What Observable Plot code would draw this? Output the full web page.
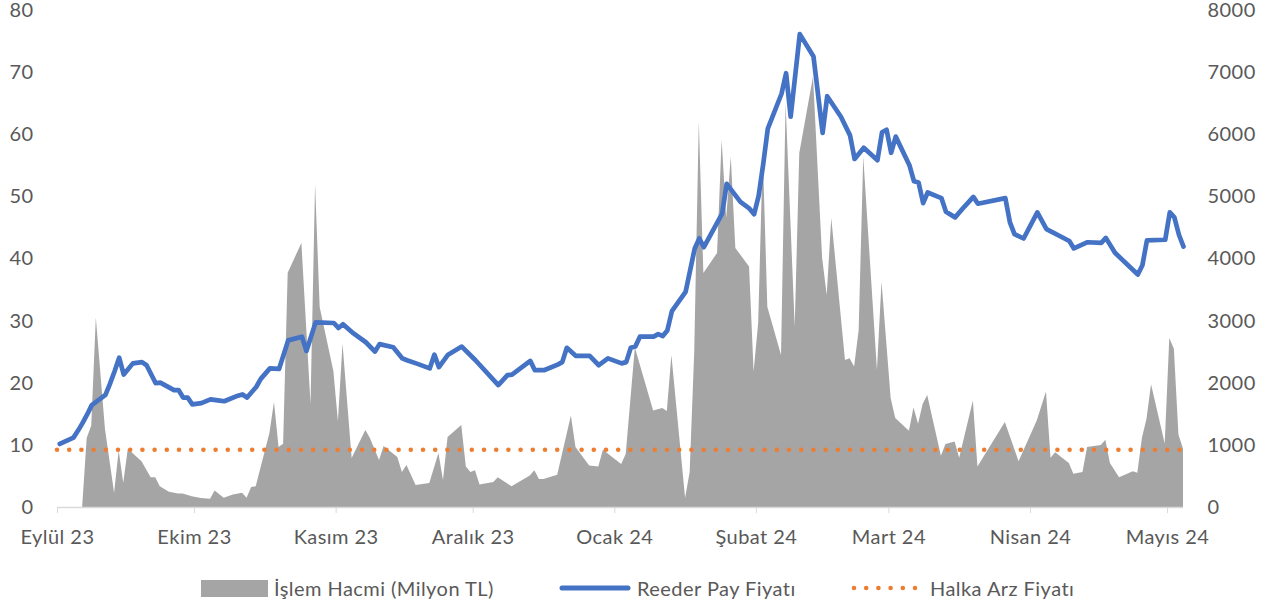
<!DOCTYPE html>
<html>
<head>
<meta charset="utf-8">
<script src="https://cdn.jsdelivr.net/npm/d3@7"></script>
<script src="https://cdn.jsdelivr.net/npm/@observablehq/plot@0.6"></script>
<style>
  html, body { margin: 0; padding: 0; background: #fff; }
  #wrap { width: 1278px; font-family: Lato, "Open Sans", sans-serif; color: #595959; }
  #chart svg text { letter-spacing: 0.45px; }
  #legend { position: relative; width: 1278px; height: 46px; font-size: 20px; letter-spacing: 0.45px; }
  #legend .it { position: absolute; top: 0; height: 46px; display: flex; align-items: center; white-space: nowrap; }
</style>
</head>
<body>
<div id="wrap">
  <div id="chart"></div>
  <div id="legend"></div>
</div>
<script>
// ---- data ----
const seriesNames = ["İşlem Hacmi (Milyon TL)", "Reeder Pay Fiyatı", "Halka Arz Fiyatı"];
const ipoPrice = 9.3;
const tickMonths = ["2023-09-01","2023-10-01","2023-11-01","2023-12-01","2024-01-01","2024-02-01","2024-03-01","2024-04-01","2024-05-01"];
const tickLabels = ["Eylül 23","Ekim 23","Kasım 23","Aralık 23","Ocak 24","Şubat 24","Mart 24","Nisan 24","Mayıs 24"];
const leftTicks = [0,10,20,30,40,50,60,70,80];

// Reeder share price (TL), left axis
const priceSeries = [
  ["2023-09-01",10.23],["2023-09-04",11.25],["2023-09-05",12.38],["2023-09-06",13.62],["2023-09-07",14.98],
  ["2023-09-08",16.48],["2023-09-11",18.13],["2023-09-12",19.94],["2023-09-13",21.93],["2023-09-14",24.12],
  ["2023-09-15",21.4],["2023-09-17",23.2],["2023-09-19",23.4],["2023-09-20",22.9],["2023-09-22",20.0],
  ["2023-09-23",20.1],["2023-09-26",18.9],["2023-09-27",18.9],["2023-09-28",17.7],["2023-09-29",17.7],
  ["2023-09-30",16.6],["2023-10-02",16.8],["2023-10-04",17.4],["2023-10-06",17.2],["2023-10-07",17.1],
  ["2023-10-10",18.0],["2023-10-11",18.2],["2023-10-12",17.7],["2023-10-14",19.4],["2023-10-15",20.7],
  ["2023-10-17",22.4],["2023-10-19",22.3],["2023-10-21",26.9],["2023-10-24",27.5],["2023-10-25",25.2],
  ["2023-10-27",29.8],["2023-10-31",29.7],["2023-11-01",28.9],["2023-11-02",29.5],["2023-11-04",28.2],
  ["2023-11-07",26.6],["2023-11-09",25.1],["2023-11-10",26.3],["2023-11-13",25.8],["2023-11-15",24.0],
  ["2023-11-16",23.7],["2023-11-18",23.2],["2023-11-21",22.4],["2023-11-22",24.6],["2023-11-23",22.6],
  ["2023-11-25",24.6],["2023-11-28",25.9],["2023-12-01",23.7],["2023-12-06",19.7],["2023-12-08",21.3],
  ["2023-12-09",21.4],["2023-12-13",23.6],["2023-12-14",22.1],["2023-12-16",22.1],["2023-12-19",23.0],
  ["2023-12-20",23.4],["2023-12-21",25.7],["2023-12-23",24.4],["2023-12-26",24.4],["2023-12-28",22.9],
  ["2023-12-30",24.0],["2024-01-02",23.2],["2024-01-03",23.4],["2024-01-04",25.7],["2024-01-05",25.9],
  ["2024-01-06",27.5],["2024-01-09",27.5],["2024-01-10",27.9],["2024-01-11",27.6],["2024-01-12",28.5],
  ["2024-01-13",31.6],["2024-01-16",34.7],["2024-01-18",41.7],["2024-01-19",43.3],["2024-01-20",41.9],
  ["2024-01-24",47.3],["2024-01-25",52.1],["2024-01-28",49.2],["2024-01-30",48.1],["2024-01-31",47.2],
  ["2024-02-01",50.2],["2024-02-02",55.3],["2024-02-03",61.0],["2024-02-06",66.6],["2024-02-07",69.9],
  ["2024-02-08",62.9],["2024-02-10",76.2],["2024-02-13",72.6],["2024-02-15",60.3],["2024-02-16",66.2],
  ["2024-02-19",62.9],["2024-02-21",59.9],["2024-02-22",56.1],["2024-02-24",57.9],["2024-02-27",55.9],
  ["2024-02-28",60.4],["2024-02-29",60.8],["2024-03-01",57.1],["2024-03-02",59.7],["2024-03-05",55.1],
  ["2024-03-06",52.5],["2024-03-07",52.3],["2024-03-08",49.0],["2024-03-09",50.7],["2024-03-12",49.8],
  ["2024-03-13",47.6],["2024-03-15",46.7],["2024-03-17",48.4],["2024-03-19",50.0],["2024-03-20",48.9],
  ["2024-03-26",49.8],["2024-03-27",45.9],["2024-03-28",44.0],["2024-03-30",43.3],["2024-04-02",47.5],
  ["2024-04-04",44.8],["2024-04-09",42.9],["2024-04-10",41.7],["2024-04-13",42.7],["2024-04-16",42.6],
  ["2024-04-17",43.4],["2024-04-19",41.0],["2024-04-24",37.5],["2024-04-25",39.0],["2024-04-26",43.0],
  ["2024-04-30",43.1],["2024-05-01",47.5],["2024-05-02",46.7],["2024-05-03",43.9],["2024-05-04",42.0]
];

// Trading volume (million TL), right axis
const volumeSeries = [
  ["2023-09-01",0],["2023-09-06",0],["2023-09-07",1110],["2023-09-08",1312],["2023-09-09",3050],
  ["2023-09-11",1255],["2023-09-13",230],["2023-09-14",909],["2023-09-15",391],["2023-09-16",938],
  ["2023-09-19",737],["2023-09-21",478],["2023-09-22",478],["2023-09-23",334],["2023-09-25",247],
  ["2023-09-27",219],["2023-09-28",219],["2023-09-30",173],["2023-10-02",144],["2023-10-04",132],
  ["2023-10-05",265],["2023-10-07",150],["2023-10-09",201],["2023-10-11",230],["2023-10-12",150],
  ["2023-10-13",322],["2023-10-14",334],["2023-10-17",1190],["2023-10-18",1690],["2023-10-19",966],
  ["2023-10-20",1020],["2023-10-21",3770],["2023-10-24",4250],["2023-10-26",1658],["2023-10-27",5200],
  ["2023-10-28",3220],["2023-10-31",2190],["2023-11-01",1380],["2023-11-02",2630],["2023-11-04",790],
  ["2023-11-07",1240],["2023-11-08",1110],["2023-11-10",756],["2023-11-11",980],["2023-11-14",805],
  ["2023-11-15",564],["2023-11-16",676],["2023-11-18",354],["2023-11-21",386],["2023-11-23",869],
  ["2023-11-24",435],["2023-11-25",1127],["2023-11-28",1320],["2023-11-29",650],["2023-11-30",564],
  ["2023-12-01",593],["2023-12-02",363],["2023-12-05",403],["2023-12-06",478],["2023-12-09",334],
  ["2023-12-13",506],["2023-12-14",593],["2023-12-15",449],["2023-12-16",449],["2023-12-19",518],
  ["2023-12-22",1473],["2023-12-23",967],["2023-12-26",668],["2023-12-28",650],["2023-12-29",921],
  ["2024-01-02",691],["2024-01-03",852],["2024-01-05",2567],["2024-01-07",2060],["2024-01-09",1554],
  ["2024-01-11",1594],["2024-01-12",1546],["2024-01-13",2448],["2024-01-16",145],["2024-01-17",564],
  ["2024-01-18",2500],["2024-01-19",6205],["2024-01-20",3768],["2024-01-23",4090],["2024-01-24",5910],
  ["2024-01-25",4650],["2024-01-26",5640],["2024-01-27",4170],["2024-01-30",3870],["2024-01-31",2180],
  ["2024-02-01",2960],["2024-02-02",5700],["2024-02-03",3225],["2024-02-06",2448],["2024-02-07",6500],
  ["2024-02-09",2903],["2024-02-10",5697],["2024-02-13",6928],["2024-02-15",4010],["2024-02-16",3413],
  ["2024-02-17",4650],["2024-02-20",2367],["2024-02-21",2394],["2024-02-22",2260],["2024-02-23",2850],
  ["2024-02-24",5640],["2024-02-27",2206],["2024-02-28",3627],["2024-03-01",1755],["2024-03-02",1433],
  ["2024-03-05",1226],["2024-03-06",1600],["2024-03-07",1341],["2024-03-08",1657],["2024-03-09",1801],
  ["2024-03-12",823],["2024-03-13",1013],["2024-03-15",1053],["2024-03-16",794],["2024-03-19",1715],
  ["2024-03-20",650],["2024-03-26",1370],["2024-03-29",737],["2024-04-02",1398],["2024-04-04",1859],
  ["2024-04-05",794],["2024-04-06",880],["2024-04-09",708],["2024-04-10",535],["2024-04-12",564],
  ["2024-04-13",967],["2024-04-16",996],["2024-04-17",1082],["2024-04-18",708],["2024-04-20",478],
  ["2024-04-23",576],["2024-04-24",552],["2024-04-25",1110],["2024-04-26",1416],["2024-04-27",1974],
  ["2024-04-30",1024],["2024-05-01",2722],["2024-05-02",2549],["2024-05-03",1168],["2024-05-04",938]
];

// ---- build ----
const colors = { volume: "#a5a5a5", price: "#4472c4", ipo: "#ed7d31", text: "#595959", axis: "#d9d9d9" };
const parse = s => new Date(s + "T12:00:00Z");      // each trading day sits mid-slot
const dayStart = s => new Date(s + "T00:00:00Z");
const price = priceSeries.map(([d, v]) => ({ date: parse(d), value: v }));
const volume = volumeSeries.map(([d, v]) => ({ date: parse(d), value: v / 100 })); // 8000 on right = 80 on left
const months = tickMonths.map(dayStart);
const labelOf = new Map(months.map((m, i) => [+m, tickLabels[i]]));

const chart = Plot.plot({
  width: 1278,
  height: 565,
  marginLeft: 57,
  marginRight: 95,
  marginTop: 10,
  marginBottom: 58,
  style: { fontFamily: "Lato, 'Open Sans', sans-serif", fontSize: "20px", color: colors.text, background: "#fff", overflow: "visible" },
  x: { type: "utc", domain: [dayStart("2023-09-01"), new Date("2024-05-04T12:00:00Z")] },
  y: { domain: [0, 80] },
  marks: [
    Plot.areaY(volume, { x: "date", y: "value", fill: colors.volume }),
    Plot.ruleY([0], { stroke: colors.axis, strokeWidth: 1.3 }),
    Plot.axisX({ ticks: months, tickFormat: d => labelOf.get(+d), tickSize: 6, tickPadding: 16,
                 stroke: colors.axis, fill: colors.text, label: null }),
    Plot.axisY({ anchor: "left", ticks: leftTicks, tickSize: 0, tickPadding: 24, fill: colors.text, label: null }),
    Plot.axisY({ anchor: "right", ticks: leftTicks, tickFormat: d => String(d * 100), tickSize: 0, tickPadding: 24,
                 fill: colors.text, label: null }),
    Plot.ruleY([ipoPrice], { stroke: colors.ipo, strokeWidth: 4.6, strokeDasharray: "0 12.2", strokeLinecap: "round" }),
    Plot.lineY(price, { x: "date", y: "value", stroke: colors.price, strokeWidth: 4.7,
                        strokeLinejoin: "round", strokeLinecap: "round" })
  ]
});
document.getElementById("chart").appendChild(chart);

// ---- legend (below the SVG) ----
const legend = document.getElementById("legend");
function item(left, swatchHTML, text) {
  const el = document.createElement("div");
  el.className = "it";
  el.style.left = left + "px";
  el.innerHTML = swatchHTML + `<span style="margin-left:6px">${text}</span>`;
  legend.appendChild(el);
}
item(201, `<svg width="67" height="17"><rect width="67" height="17" fill="${colors.volume}"/></svg>`, seriesNames[0]);
item(559, `<svg width="72" height="8"><line x1="3" y1="4" x2="69" y2="4" stroke="${colors.price}" stroke-width="5" stroke-linecap="round"/></svg>`, seriesNames[1]);
item(851, `<svg width="73" height="8"><line x1="3" y1="4" x2="70" y2="4" stroke="${colors.ipo}" stroke-width="4.6" stroke-dasharray="0 12.2" stroke-linecap="round"/></svg>`, seriesNames[2]);
</script>
</body>
</html>
